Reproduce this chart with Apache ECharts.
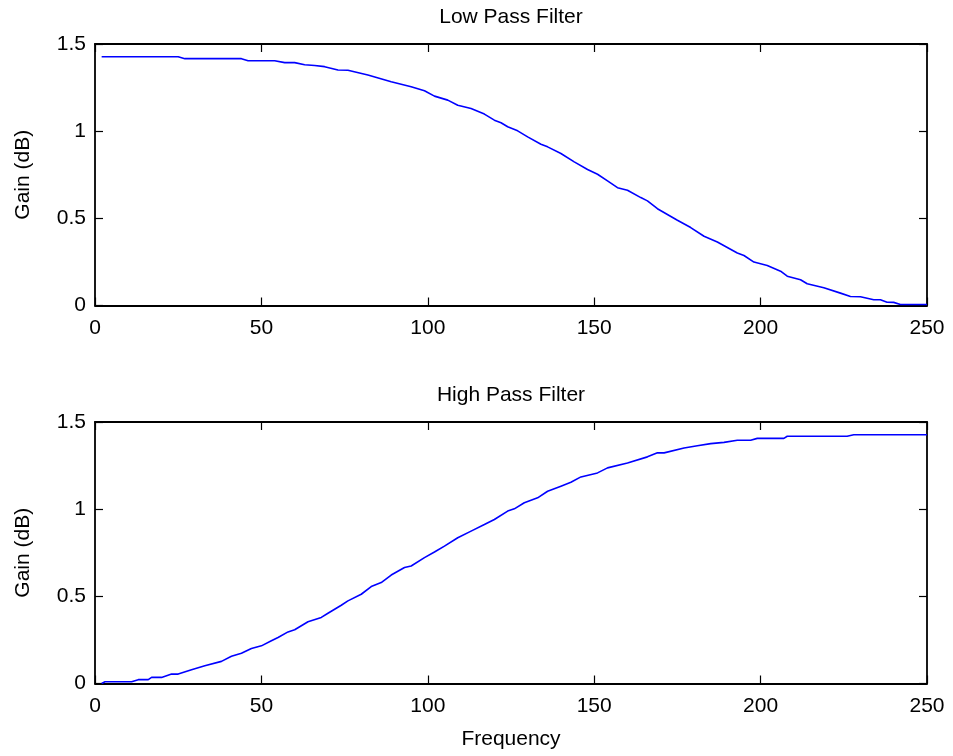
<!DOCTYPE html>
<html>
<head>
<meta charset="utf-8">
<script src="https://cdn.jsdelivr.net/npm/echarts@6/dist/echarts.min.js"></script>
<style>html,body{margin:0;padding:0;background:#fff}#c{width:953px;height:756px}</style>
</head>
<body>
<div id="c"></div>
<script>
var titles = ["Low Pass Filter", "High Pass Filter"];
var yName = "Gain (dB)";
var xName = "Frequency";
var xTicks = [0, 50, 100, 150, 200, 250];
var yTicks = [0, 0.5, 1, 1.5];

var lowFreq = [2, 25, 27, 44, 46, 54, 57, 60, 63, 66, 69, 73, 76, 82, 89, 95, 99, 102, 106, 109, 113, 117, 120, 122, 124, 127, 130, 134, 136, 140, 144, 148, 151, 154, 157, 160, 164, 166, 169, 175, 179, 183, 187, 193, 195, 198, 202, 206, 208, 212, 214, 219, 224, 227, 230, 234, 236, 238, 240, 242, 250];
var lowGain = [1.427, 1.427, 1.416, 1.416, 1.404, 1.404, 1.393, 1.393, 1.381, 1.377, 1.370, 1.351, 1.349, 1.322, 1.283, 1.255, 1.232, 1.201, 1.178, 1.149, 1.130, 1.098, 1.063, 1.048, 1.025, 1.002, 0.967, 0.925, 0.910, 0.872, 0.824, 0.780, 0.753, 0.715, 0.676, 0.661, 0.619, 0.600, 0.555, 0.489, 0.447, 0.397, 0.364, 0.301, 0.287, 0.249, 0.230, 0.197, 0.168, 0.148, 0.125, 0.102, 0.071, 0.052, 0.050, 0.033, 0.033, 0.019, 0.018, 0.006, 0.006];

var highFreq = [2, 3, 11, 13, 16, 17, 20, 23, 25, 29, 33, 38, 41, 44, 47, 50, 53, 55, 58, 60, 64, 68, 70, 74, 76, 80, 83, 86, 89, 93, 95, 99, 102, 105, 109, 113, 117, 120, 124, 126, 129, 133, 136, 140, 143, 146, 151, 154, 160, 166, 169, 171, 177, 181, 185, 189, 193, 197, 199, 207, 208, 226, 228, 250];
var highGain = [0, 0.01, 0.01, 0.022, 0.022, 0.035, 0.035, 0.054, 0.054, 0.079, 0.102, 0.127, 0.156, 0.174, 0.201, 0.216, 0.245, 0.264, 0.296, 0.308, 0.354, 0.379, 0.403, 0.449, 0.474, 0.512, 0.556, 0.579, 0.622, 0.665, 0.674, 0.722, 0.754, 0.788, 0.836, 0.874, 0.912, 0.941, 0.989, 1.002, 1.037, 1.065, 1.103, 1.132, 1.154, 1.185, 1.208, 1.237, 1.265, 1.300, 1.323, 1.323, 1.351, 1.364, 1.376, 1.383, 1.395, 1.395, 1.406, 1.406, 1.418, 1.418, 1.427, 1.427];

function pairs(xs, ys) { return xs.map(function (x, i) { return [x, ys[i]]; }); }

var FONT = "Liberation Sans, Arial, Helvetica, sans-serif";
var FS = 21;
var xMin = xTicks[0], xMax = xTicks[xTicks.length - 1], xInt = xTicks[1] - xTicks[0];
var yMin = yTicks[0], yMax = yTicks[yTicks.length - 1], yInt = yTicks[1] - yTicks[0];

var grids = [
  { left: 95, width: 832, top: 44, height: 261.5 },
  { left: 95, width: 832, top: 422, height: 261.5 }
];

var axisLine = { show: true, onZero: false, lineStyle: { color: '#000', width: 1.8 } };
var tick = { show: true, inside: true, length: 8, lineStyle: { color: '#000', width: 1.2 } };
var lbl = { color: '#000', fontFamily: FONT, fontSize: FS };
var nameStyle = { color: '#000', fontFamily: FONT, fontSize: FS };

var xAxes = [], yAxes = [];
[0, 1].forEach(function (g) {
  xAxes.push({
    type: 'value', gridIndex: g, position: 'bottom', min: xMin, max: xMax, interval: xInt,
    axisLine: axisLine, axisTick: tick, splitLine: { show: false },
    axisLabel: Object.assign({ margin: 12 }, lbl),
    name: g === 1 ? xName : '', nameLocation: 'middle', nameGap: 45,
    nameTextStyle: nameStyle
  });
  xAxes.push({
    type: 'value', gridIndex: g, position: 'top', min: xMin, max: xMax, interval: xInt,
    axisLine: axisLine, axisTick: tick, splitLine: { show: false },
    axisLabel: { show: false },
    name: titles[g], nameLocation: 'middle', nameGap: 16,
    nameTextStyle: nameStyle
  });
  yAxes.push({
    type: 'value', gridIndex: g, position: 'left', min: yMin, max: yMax, interval: yInt,
    axisLine: axisLine, axisTick: tick, splitLine: { show: false },
    axisLabel: Object.assign({ margin: 9 }, lbl),
    name: yName, nameLocation: 'middle', nameGap: 61, nameRotate: 90,
    nameTextStyle: nameStyle
  });
  yAxes.push({
    type: 'value', gridIndex: g, position: 'right', min: yMin, max: yMax, interval: yInt,
    axisLine: axisLine, axisTick: tick, splitLine: { show: false },
    axisLabel: { show: false }
  });
});

var lineStyle = { color: '#0000ff', width: 1.6 };
var chart = echarts.init(document.getElementById('c'), null, { renderer: 'canvas' });
chart.setOption({
  animation: false,
  backgroundColor: '#fff',
  grid: grids,
  xAxis: xAxes,
  yAxis: yAxes,
  series: [
    { type: 'line', xAxisIndex: 0, yAxisIndex: 0, data: pairs(lowFreq, lowGain), showSymbol: false, lineStyle: lineStyle, itemStyle: { color: '#0000ff' } },
    { type: 'line', xAxisIndex: 2, yAxisIndex: 2, data: pairs(highFreq, highGain), showSymbol: false, lineStyle: lineStyle, itemStyle: { color: '#0000ff' } }
  ]
});
</script>
</body>
</html>
